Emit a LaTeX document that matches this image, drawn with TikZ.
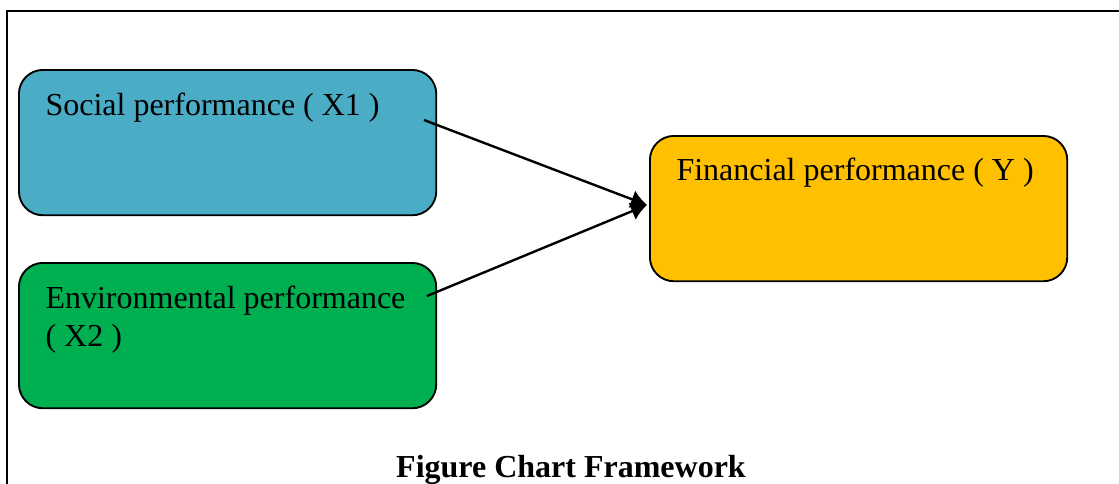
\documentclass[tikz,border=0pt]{standalone}
\usepackage{fontspec}
\setmainfont{Liberation Serif}
\usepackage{tikz}
\usetikzlibrary{calc,arrows.meta}

\definecolor{socialblue}{HTML}{4BACC6}
\definecolor{envgreen}{HTML}{00B050}
\definecolor{fingold}{HTML}{FFC000}

\begin{document}
\begin{tikzpicture}[x=0.375pt,y=-0.375pt,
    box/.style={draw,line width=0.7pt,rounded corners=9pt,anchor=north west,
      minimum width=156.5pt,minimum height=54.5pt,inner sep=0pt},
    txt/.style={anchor=base west,inner sep=0pt,font=\fontsize{12}{14}\selectfont},
    link/.style={line width=0.9pt,-{Latex[length=6pt,width=7pt]}}]
      \useasboundingbox (0,0) rectangle (1119,483);
      \draw[line width=0.7pt] (7,520) -- (7,11) -- (1140,11);

      \node[box,fill=socialblue] (social) at (18,69) {};
      \node[box,fill=envgreen] (env) at (18,262) {};
      \node[box,fill=fingold] (fin) at (649,135) {};

      \node[txt] (socialtxt) at (45,115) {Social performance ( X1 )};
      \node[txt] (envtxt) at (45,308) {Environmental performance};
      \node[txt] (envtxtb) at (45,346) {( X2 )};
      \node[txt] (fintxt) at (676,180) {Financial performance ( Y )};

      \coordinate (s1) at (424,120);
      \coordinate (e1) at (427,296);
      \coordinate (tip) at (647,205);
      \draw[link] (s1) -- (tip);
      \draw[link] (e1) -- (tip);

      \node[anchor=base,inner sep=0pt,font=\fontsize{12}{14}\selectfont\bfseries] (caption) at (571,477) {Figure Chart Framework};
    \end{tikzpicture}
\end{document}
